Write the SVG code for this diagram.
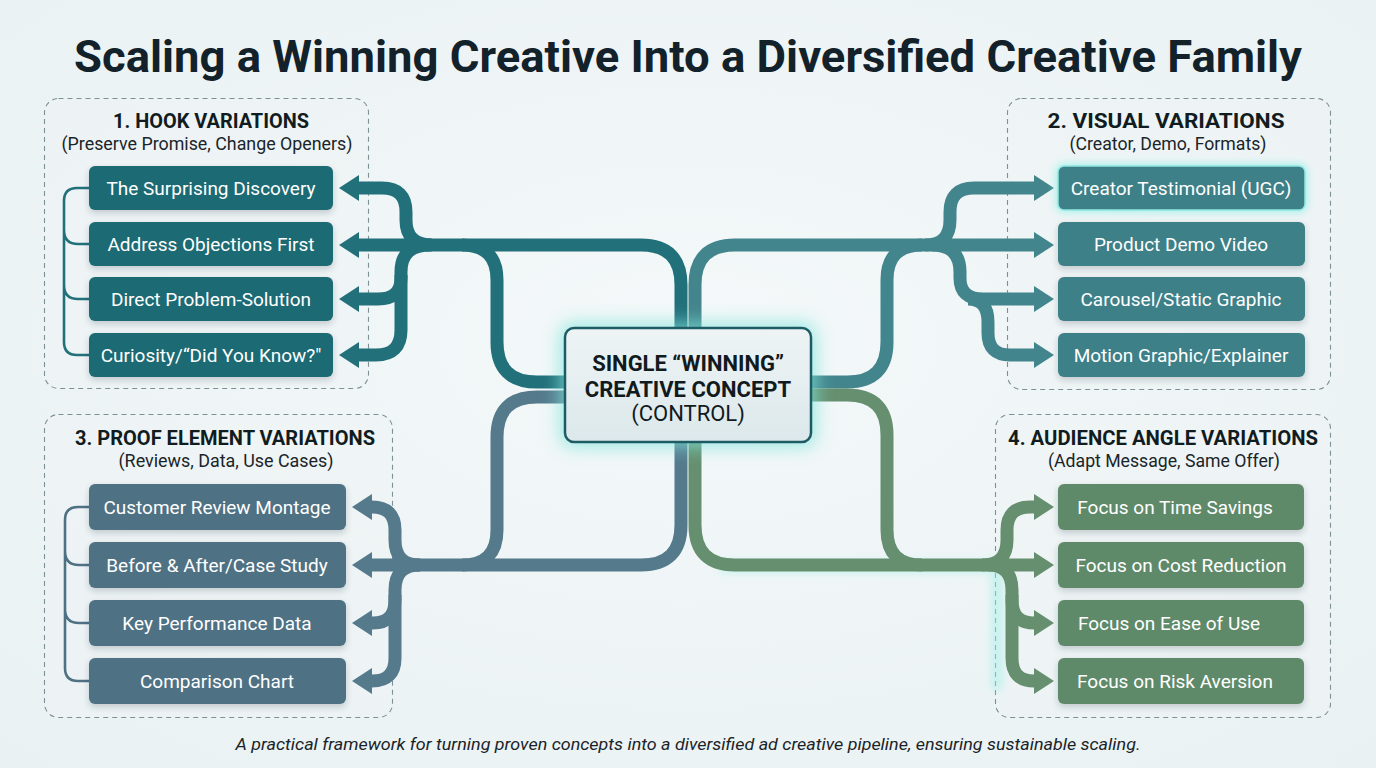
<svg xmlns="http://www.w3.org/2000/svg" width="1376" height="768" viewBox="0 0 1376 768">
<defs>
<radialGradient id="bg" cx="50%" cy="45%" r="75%">
<stop offset="0" stop-color="#f4f8f9"/>
<stop offset="1" stop-color="#e9f1f3"/>
</radialGradient>
<linearGradient id="cg" x1="0" y1="0" x2="0" y2="1">
<stop offset="0" stop-color="#eef4f5"/>
<stop offset="1" stop-color="#dce8eb"/>
</linearGradient>
<filter id="glow" x="-40%" y="-40%" width="180%" height="180%">
<feGaussianBlur stdDeviation="9"/>
</filter>
<filter id="glowS" x="-20%" y="-60%" width="140%" height="220%">
<feGaussianBlur stdDeviation="4"/>
</filter>
<filter id="sh" x="-10%" y="-20%" width="120%" height="160%">
<feDropShadow dx="0" dy="3" stdDeviation="3" flood-color="#1c3a40" flood-opacity="0.22"/>
</filter>
<marker id="aT1" markerUnits="userSpaceOnUse" viewBox="0 0 20 26" refX="3" refY="13" markerWidth="20" markerHeight="26" orient="auto"><path d="M0 0 L20 13 L0 26 z" fill="#22707a"/></marker>
<marker id="aT2" markerUnits="userSpaceOnUse" viewBox="0 0 20 26" refX="3" refY="13" markerWidth="20" markerHeight="26" orient="auto"><path d="M0 0 L20 13 L0 26 z" fill="#43858c"/></marker>
<marker id="aS" markerUnits="userSpaceOnUse" viewBox="0 0 20 26" refX="3" refY="13" markerWidth="20" markerHeight="26" orient="auto"><path d="M0 0 L20 13 L0 26 z" fill="#557a8c"/></marker>
<marker id="aG" markerUnits="userSpaceOnUse" viewBox="0 0 20 26" refX="3" refY="13" markerWidth="20" markerHeight="26" orient="auto"><path d="M0 0 L20 13 L0 26 z" fill="#658f6f"/></marker>
</defs>
<style>
.panel{fill:#eef4f5;fill-opacity:0.6;stroke:#7d9196;stroke-width:1.1;stroke-dasharray:5 4}
.ptitle{font-family:Roboto,"Liberation Sans",sans-serif;font-weight:700;font-size:20px;fill:#111c20;text-anchor:middle}
.psub{font-family:Roboto,"Liberation Sans",sans-serif;font-size:18px;fill:#1a2529;text-anchor:middle}
.btxt{font-family:Roboto,"Liberation Sans",sans-serif;font-size:19px;fill:#ffffff;text-anchor:middle}
.c{fill:none;stroke-width:13;stroke-linecap:butt;stroke-linejoin:round}
.t1{stroke:#22707a}.t2{stroke:#43858c}.sl{stroke:#557a8c}.gr{stroke:#658f6f}
.br{fill:none;stroke-width:2.6}
.b1{fill:#1f6a73}.b2{fill:#3e8088}.b3{fill:#4f7184}.b4{fill:#5f8a6b}
.ctr{font-family:Roboto,"Liberation Sans",sans-serif;font-size:22px;fill:#111a1d;text-anchor:middle}
</style>
<rect width="1376" height="768" fill="url(#bg)"/>
<text x="688" y="72" font-family="Roboto,'Liberation Sans',sans-serif" font-weight="700" font-size="44" fill="#13222a" text-anchor="middle" textLength="1228" lengthAdjust="spacingAndGlyphs">Scaling a Winning Creative Into a Diversified Creative Family</text>

<g id="panel1">
<rect class="panel" x="44.5" y="98.5" width="324" height="290" rx="14"/>
<text class="ptitle" x="211" y="128" textLength="196" lengthAdjust="spacingAndGlyphs">1. HOOK VARIATIONS</text>
<text class="psub" x="207" y="150" textLength="291" lengthAdjust="spacingAndGlyphs">(Preserve Promise, Change Openers)</text>
<path class="br" stroke="#22707a" d="M89 188 H77 Q64 188 64 201 V342 Q64 355 77 355 H89 M64 230 Q64 244 78 244 H89 M64 285 Q64 299 78 299 H89"/>
</g>
<g id="panel2">
<rect class="panel" x="1007.5" y="98.5" width="323" height="291" rx="14"/>
<text class="ptitle" x="1166" y="128" textLength="237" lengthAdjust="spacingAndGlyphs">2. VISUAL VARIATIONS</text>
<text class="psub" x="1168" y="150" textLength="197" lengthAdjust="spacingAndGlyphs">(Creator, Demo, Formats)</text>
</g>
<g id="panel3">
<rect class="panel" x="44.5" y="414.5" width="348" height="303" rx="14"/>
<text class="ptitle" x="225" y="445" textLength="300" lengthAdjust="spacingAndGlyphs">3. PROOF ELEMENT VARIATIONS</text>
<text class="psub" x="226" y="467" textLength="215" lengthAdjust="spacingAndGlyphs">(Reviews, Data, Use Cases)</text>
<path class="br" stroke="#4f7184" d="M89 507 H78 Q65 507 65 520 V668 Q65 681 78 681 H89 M65 551 Q65 565 79 565 H89 M65 609 Q65 623 79 623 H89"/>
</g>
<g id="panel4">
<rect class="panel" x="995.5" y="414.5" width="335" height="303" rx="14"/>
<text class="ptitle" x="1163" y="445" textLength="310" lengthAdjust="spacingAndGlyphs">4. AUDIENCE ANGLE VARIATIONS</text>
<text class="psub" x="1164" y="467" textLength="232" lengthAdjust="spacingAndGlyphs">(Adapt Message, Same Offer)</text>
</g>

<g id="connectors">
<path d="M720 567 H990 M997 560 V690" stroke="#9df0e6" stroke-width="12" fill="none" opacity="0.5" filter="url(#glowS)"/>
<path class="c t1" d="M681 332 V285 Q681 245 641 245 H356" marker-end="url(#aT1)"/>
<path class="c t1" d="M565 382 H537 Q497 382 497 342 V280 Q497 245 462 245"/>
<path class="c t1" d="M432 245 Q406 245 406 220 V212 Q406 188 382 188 H356" marker-end="url(#aT1)"/>
<path class="c t1" d="M430 245 Q401 245 401 272 V278 Q401 299 378 299 H356" marker-end="url(#aT1)"/>
<path class="c t1" d="M401 275 V330 Q401 355 376 355 H356" marker-end="url(#aT1)"/>
<path class="c t2" d="M695 332 V285 Q695 245 735 245 H1037" marker-end="url(#aT2)"/>
<path class="c t2" d="M811 382 H847 Q887 382 887 342 V280 Q887 245 922 245"/>
<path class="c t2" d="M925 245 Q950 245 950 220 V212 Q950 188 974 188 H1037" marker-end="url(#aT2)"/>
<path class="c t2" d="M932 245 Q960 245 960 272 V278 Q960 299 983 299 H1037" marker-end="url(#aT2)"/>
<path class="c t2" d="M968 299 Q988 299 988 322 V333 Q988 355 1010 355 H1037" marker-end="url(#aT2)"/>
<path class="c sl" d="M681 438 V525 Q681 565 641 565 H369" marker-end="url(#aS)"/>
<path class="c sl" d="M565 397 H537 Q497 397 497 437 V530 Q497 565 462 565"/>
<path class="c sl" d="M420 565 Q395 565 395 540 V530 Q395 507 372 507 H369" marker-end="url(#aS)"/>
<path class="c sl" d="M420 565 Q395 565 395 590 V600 Q395 623 373 623 H369" marker-end="url(#aS)"/>
<path class="c sl" d="M395 595 V658 Q395 681 372 681 H369" marker-end="url(#aS)"/>
<path class="c gr" d="M695 438 V525 Q695 565 735 565 H1037" marker-end="url(#aG)"/>
<path class="c gr" d="M811 395 H847 Q887 395 887 435 V530 Q887 565 922 565"/>
<path class="c gr" d="M982 565 Q1007 565 1007 540 V530 Q1007 507 1030 507 H1037" marker-end="url(#aG)"/>
<path class="c gr" d="M988 565 Q1012 565 1012 590 V600 Q1012 623 1034 623 H1037" marker-end="url(#aG)"/>
<path class="c gr" d="M1012 595 V658 Q1012 681 1034 681 H1037" marker-end="url(#aG)"/>
</g>

<g id="hook1"><rect class="b1" x="89" y="166" width="244" height="44" rx="6" filter="url(#sh)"/><text class="btxt" x="211" y="194.5">The Surprising Discovery</text></g>
<g id="hook2"><rect class="b1" x="89" y="222" width="244" height="44" rx="6" filter="url(#sh)"/><text class="btxt" x="211" y="250.5">Address Objections First</text></g>
<g id="hook3"><rect class="b1" x="89" y="277" width="244" height="44" rx="6" filter="url(#sh)"/><text class="btxt" x="211" y="305.5">Direct Problem-Solution</text></g>
<g id="hook4"><rect class="b1" x="89" y="333" width="244" height="44" rx="6" filter="url(#sh)"/><text class="btxt" x="211" y="361.5">Curiosity/“Did You Know?"</text></g>

<g id="visual1">
<rect x="1056" y="164" width="251" height="48" rx="8" fill="#7ff0e6" opacity="0.7" filter="url(#glowS)"/>
<rect class="b2" x="1058" y="166" width="247" height="44" rx="6" stroke="#8fe8e0" stroke-width="1.5"/><text class="btxt" x="1181" y="194.5">Creator Testimonial (UGC)</text></g>
<g id="visual2"><rect class="b2" x="1058" y="222" width="247" height="44" rx="6" filter="url(#sh)"/><text class="btxt" x="1181" y="250.5">Product Demo Video</text></g>
<g id="visual3"><rect class="b2" x="1058" y="277" width="247" height="44" rx="6" filter="url(#sh)"/><text class="btxt" x="1181" y="305.5">Carousel/Static Graphic</text></g>
<g id="visual4"><rect class="b2" x="1058" y="333" width="247" height="44" rx="6" filter="url(#sh)"/><text class="btxt" x="1181" y="361.5">Motion Graphic/Explainer</text></g>

<g id="proof1"><rect class="b3" x="89" y="484" width="257" height="46" rx="6" filter="url(#sh)"/><text class="btxt" x="217" y="513.5">Customer Review Montage</text></g>
<g id="proof2"><rect class="b3" x="89" y="542" width="257" height="46" rx="6" filter="url(#sh)"/><text class="btxt" x="217" y="571.5">Before &amp; After/Case Study</text></g>
<g id="proof3"><rect class="b3" x="89" y="600" width="257" height="46" rx="6" filter="url(#sh)"/><text class="btxt" x="217" y="629.5">Key Performance Data</text></g>
<g id="proof4"><rect class="b3" x="89" y="658" width="257" height="46" rx="6" filter="url(#sh)"/><text class="btxt" x="217" y="687.5">Comparison Chart</text></g>

<g id="aud1"><rect class="b4" x="1058" y="484" width="246" height="46" rx="6" filter="url(#sh)"/><text class="btxt" x="1175" y="513.5">Focus on Time Savings</text></g>
<g id="aud2"><rect class="b4" x="1058" y="542" width="246" height="46" rx="6" filter="url(#sh)"/><text class="btxt" x="1181" y="571.5">Focus on Cost Reduction</text></g>
<g id="aud3"><rect class="b4" x="1058" y="600" width="246" height="46" rx="6" filter="url(#sh)"/><text class="btxt" x="1169" y="629.5">Focus on Ease of Use</text></g>
<g id="aud4"><rect class="b4" x="1058" y="658" width="246" height="46" rx="6" filter="url(#sh)"/><text class="btxt" x="1175" y="687.5">Focus on Risk Aversion</text></g>

<g id="center">
<rect x="560" y="323" width="256" height="124" rx="12" fill="#7fe6dc" opacity="0.75" filter="url(#glow)"/>
<rect x="565" y="328" width="246" height="114" rx="9" fill="url(#cg)" stroke="#1d5c64" stroke-width="2.5"/>
<text class="ctr" x="688" y="371" font-weight="700">SINGLE “WINNING”</text>
<text class="ctr" x="688" y="397" font-weight="700">CREATIVE CONCEPT</text>
<text class="ctr" x="688" y="421">(CONTROL)</text>
</g>

<text x="688" y="750" font-family="Roboto,'Liberation Sans',sans-serif" font-style="italic" font-size="16.5" fill="#1a2428" text-anchor="middle" textLength="905" lengthAdjust="spacingAndGlyphs">A practical framework for turning proven concepts into a diversified ad creative pipeline, ensuring sustainable scaling.</text>
</svg>
